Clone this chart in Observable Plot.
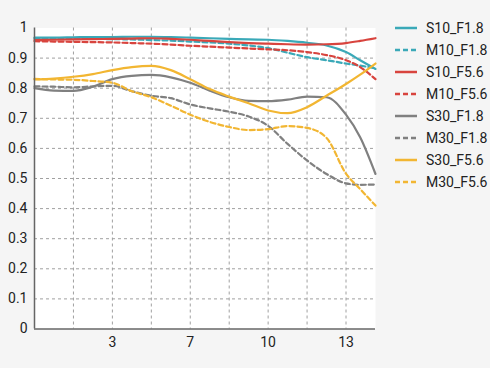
<!DOCTYPE html>
<html><head><meta charset="utf-8">
<script src="https://cdn.jsdelivr.net/npm/d3@7"></script>
<script src="https://cdn.jsdelivr.net/npm/@observablehq/plot@0.6"></script>
<style>
body{margin:0;background:#f5f5f5;font-family:Roboto,sans-serif;}
#wrap{position:relative;width:490px;height:368px;}
#legend{position:absolute;left:395px;top:17px;font-size:14px;color:#222;}
.row{display:flex;align-items:center;height:22px;}
.row svg{margin-right:9px;}
</style></head>
<body><div id="wrap"><div id="legend"></div></div>
<script>
const xs = [0, 0.825, 1.65, 2.475, 3.3, 4.125, 4.95, 5.775, 6.6, 7.425, 8.25, 9.075, 9.9, 10.725, 11.55, 12.375, 13.2, 13.8, 14.45];
const S10_F18 = [0.968,0.968,0.969,0.970,0.970,0.971,0.971,0.970,0.968,0.966,0.964,0.962,0.961,0.957,0.951,0.942,0.920,0.893,0.864];
const M10_F18 = [0.966,0.966,0.965,0.964,0.963,0.962,0.960,0.958,0.955,0.952,0.948,0.942,0.933,0.918,0.903,0.893,0.882,0.875,0.866];
const S10_F56 = [0.960,0.961,0.962,0.963,0.964,0.965,0.966,0.964,0.961,0.957,0.953,0.950,0.948,0.946,0.945,0.946,0.950,0.957,0.966];
const M10_F56 = [0.956,0.955,0.954,0.953,0.952,0.950,0.948,0.945,0.941,0.938,0.935,0.932,0.929,0.926,0.920,0.910,0.893,0.870,0.830];
const S30_F18 = [0.800,0.792,0.791,0.805,0.830,0.841,0.844,0.836,0.818,0.792,0.770,0.758,0.757,0.762,0.772,0.770,0.712,0.637,0.515];
const M30_F18 = [0.806,0.805,0.803,0.806,0.808,0.790,0.775,0.767,0.746,0.733,0.722,0.706,0.675,0.615,0.560,0.515,0.484,0.479,0.480];
const S30_F56 = [0.829,0.832,0.838,0.847,0.860,0.870,0.874,0.860,0.830,0.797,0.772,0.750,0.726,0.717,0.737,0.775,0.814,0.845,0.882];
const M30_F56 = [0.831,0.829,0.828,0.824,0.818,0.790,0.770,0.742,0.712,0.688,0.671,0.661,0.664,0.674,0.668,0.635,0.516,0.465,0.410];

const names = ["S10_F1.8","M10_F1.8","S10_F5.6","M10_F5.6","S30_F1.8","M30_F1.8","S30_F5.6","M30_F5.6"];
const seriesVals = [S10_F18,M10_F18,S10_F56,M10_F56,S30_F18,M30_F18,S30_F56,M30_F56];
const colors = ["#3aa9b8","#3aa9b8","#d8443e","#d8443e","#808080","#808080","#f2b632","#f2b632"];
const dashed = [false,true,false,true,false,true,false,true];

const xGrid = [1.65, 3.3, 4.95, 6.6, 8.25, 9.9, 11.55, 13.2];
const xTickVals = [3.3, 6.6, 9.9, 13.2];
const xTickLabels = ["3","7","10","13"];
const yTicks = [0,0.1,0.2,0.3,0.4,0.5,0.6,0.7,0.8,0.9,1];
const yTickLabels = ["0","0.1","0.2","0.3","0.4","0.5","0.6","0.7","0.8","0.9","1"];

const data = names.flatMap((n,i)=>xs.map((x,j)=>({name:n, x, y:seriesVals[i][j]})));

const lineMarks = names.map((n,i)=>Plot.line(data.filter(d=>d.name===n), {
  x:"x", y:"y", stroke: colors[i], strokeWidth: 2.2,
  strokeDasharray: dashed[i] ? "5,3" : null, curve:"monotone-x"
}));

const chart = Plot.plot({
  width:490, height:368,
  marginLeft:34, marginRight:115, marginTop:27.5, marginBottom:39.5,
  style:{background:"#f5f5f5", fontFamily:"Roboto, sans-serif", fontSize:"14px", color:"#222"},
  x:{domain:[0,14.45]},
  y:{domain:[0,1]},
  marks:[
    Plot.frame({fill:"white", stroke:null}),
    Plot.gridX(xGrid, {stroke:"#a0a0a0", strokeOpacity:1, strokeDasharray:"3,3"}),
    Plot.gridY(yTicks.slice(1,10), {stroke:"#a0a0a0", strokeOpacity:1, strokeDasharray:"3,3"}),
    Plot.axisX(xTickVals, {tickSize:0, tickPadding:8, tickFormat:(d)=>xTickLabels[xTickVals.indexOf(d)], label:null, fill:"#222"}),
    Plot.axisY(yTicks, {tickSize:0, tickPadding:7, tickFormat:(d)=>yTickLabels[yTicks.indexOf(d)], label:null, fill:"#222"}),
    ...lineMarks,
    Plot.ruleX([0], {stroke:"#666", strokeWidth:1.5}),
    Plot.ruleY([0], {stroke:"#666", strokeWidth:1.5})
  ]
});
document.getElementById("wrap").prepend(chart);

const leg = document.getElementById("legend");
names.forEach((n,i)=>{
  const row = document.createElement("div");
  row.className="row";
  row.innerHTML = `<svg width="22" height="4"><line x1="0" y1="2" x2="22" y2="2" stroke="${colors[i]}" stroke-width="2.5" ${dashed[i]?'stroke-dasharray="5,3"':''}/></svg><span>${n}</span>`;
  leg.appendChild(row);
});
</script></body></html>
